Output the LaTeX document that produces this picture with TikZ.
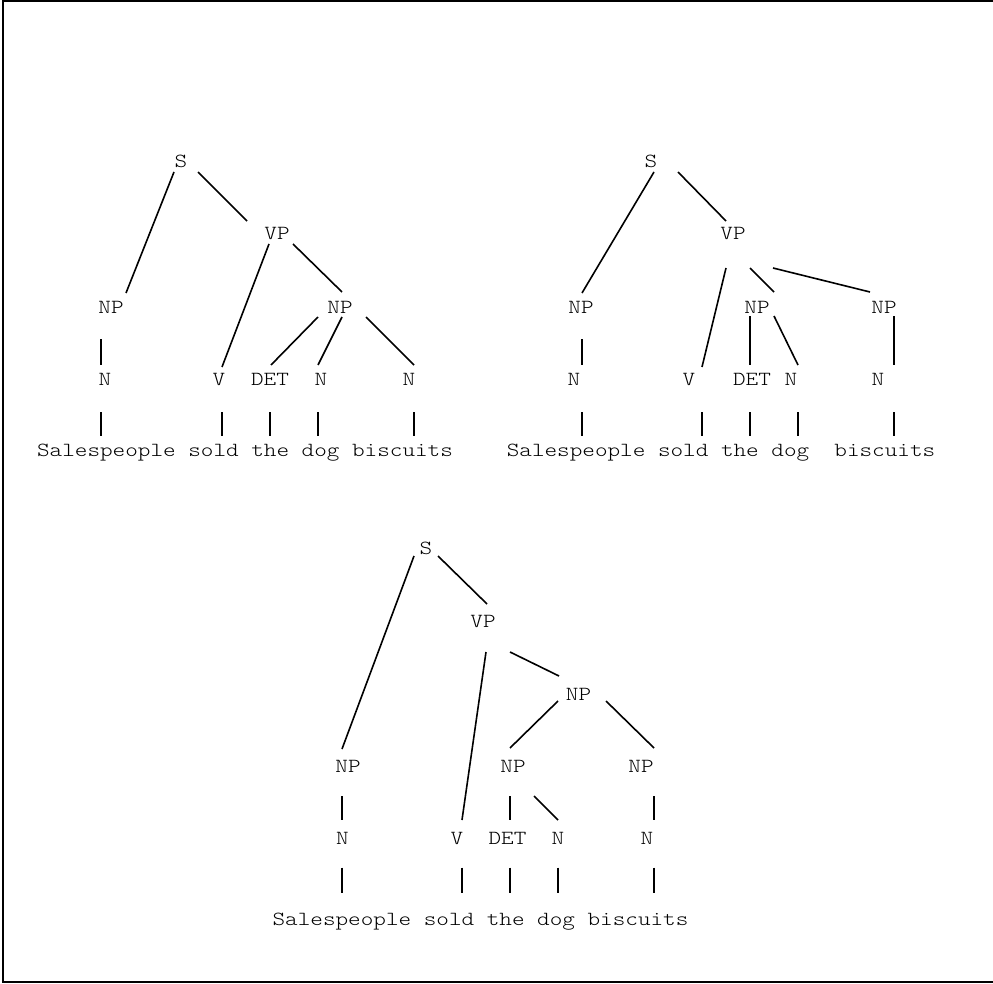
\documentclass[tikz,border=0pt]{standalone}
\usepackage{fontspec}
\setmainfont{lmmonolt10-regular.otf}[FakeStretch=1.2]
\usetikzlibrary{calc}
\tikzset{
  lbl/.style={anchor=base, inner sep=0pt, font=\fontsize{20}{24}\selectfont},
  edge/.style={line width=1.6pt}
}
\newcommand{\lnk}[6]{\draw[edge] ($(#1.base)+(#2,#3)$) -- ($(#4.base)+(#5,#6)$);}
\begin{document}
\begin{tikzpicture}[x=1pt,y=-1pt]
\useasboundingbox (0,0) rectangle (993,984);
\draw[line width=2pt] (993,0.7) -- (3.3,0.7) -- (3.3,982) -- (993,982);

% ---------- Tree 1 ----------
\node[lbl] (aS)   at (181,168) {S};
\node[lbl] (aVP)  at (277,240) {VP};
\node[lbl] (aNP1) at (111,313) {NP};
\node[lbl] (aNP2) at (340,313) {NP};
\node[lbl] (aN1)  at (105,385) {N};
\node[lbl] (aV)   at (219,385) {V};
\node[lbl] (aDET) at (270,385) {DET};
\node[lbl] (aN2)  at (321,385) {N};
\node[lbl] (aN3)  at (409,385) {N};
\node[lbl] (aW)   at (245,456.5) {Salespeople sold the dog biscuits};
\lnk{aS}{-7}{4}{aNP1}{15}{-20}
\lnk{aS}{17}{4}{aVP}{-30}{-19}
\lnk{aVP}{-8}{4}{aV}{3}{-18}
\lnk{aVP}{16}{4}{aNP2}{2}{-21}
\lnk{aNP2}{-22}{4}{aDET}{1}{-20}
\lnk{aNP2}{2}{4}{aN2}{-3}{-20}
\lnk{aNP2}{26}{4}{aN3}{5}{-20}
\lnk{aNP1}{-10}{26}{aN1}{-4}{-20}
\lnk{aN1}{-4}{27}{aW}{-144}{-20.5}
\lnk{aV}{3}{27}{aW}{-23}{-20.5}
\lnk{aDET}{0}{27}{aW}{25}{-20.5}
\lnk{aN2}{-3}{27}{aW}{73}{-20.5}
\lnk{aN3}{5}{27}{aW}{169}{-20.5}

% ---------- Tree 2 ----------
\node[lbl] (bS)   at (651,168) {S};
\node[lbl] (bVP)  at (733,240) {VP};
\node[lbl] (bNP1) at (581,313) {NP};
\node[lbl] (bNP2) at (757,313) {NP};
\node[lbl] (bNP3) at (884,313) {NP};
\node[lbl] (bN1)  at (574,385) {N};
\node[lbl] (bV)   at (689,385) {V};
\node[lbl] (bDET) at (752,385) {DET};
\node[lbl] (bN2)  at (791,385) {N};
\node[lbl] (bN3)  at (878,385) {N};
\node[lbl] (bW)   at (721,456.5) {Salespeople sold the dog~~biscuits};
\lnk{bS}{3}{4}{bNP1}{1}{-20}
\lnk{bS}{27}{4}{bVP}{-7}{-19}
\lnk{bVP}{-7}{28}{bV}{13}{-18}
\lnk{bVP}{17}{28}{bNP2}{17}{-21}
\lnk{bVP}{40}{28}{bNP3}{-14}{-21}
\lnk{bNP1}{1}{26}{bN1}{8}{-20}
\lnk{bNP2}{-7}{3}{bDET}{-2}{-20}
\lnk{bNP2}{17}{3}{bN2}{7}{-20}
\lnk{bNP3}{10}{3}{bN3}{16}{-20}
\lnk{bN1}{8}{27}{bW}{-139}{-20.5}
\lnk{bV}{13}{27}{bW}{-19}{-20.5}
\lnk{bDET}{-2}{27}{bW}{29}{-20.5}
\lnk{bN2}{7}{27}{bW}{77}{-20.5}
\lnk{bN3}{16}{27}{bW}{173}{-20.5}

% ---------- Tree 3 ----------
\node[lbl] (cS)   at (426,554) {S};
\node[lbl] (cVP)  at (483,627) {VP};
\node[lbl] (cNPu) at (578.5,700) {NP};
\node[lbl] (cNP1) at (348,772) {NP};
\node[lbl] (cNP2) at (513,772) {NP};
\node[lbl] (cNP3) at (641,772) {NP};
\node[lbl] (cN1)  at (342.5,844) {N};
\node[lbl] (cV)   at (457,844) {V};
\node[lbl] (cDET) at (507.5,844) {DET};
\node[lbl] (cN2)  at (558,844) {N};
\node[lbl] (cN3)  at (647,844) {N};
\node[lbl] (cW)   at (480.5,925) {Salespeople sold the dog biscuits};
\lnk{cS}{-12}{2}{cNP1}{-6}{-23}
\lnk{cS}{12}{2}{cVP}{4}{-23}
\lnk{cVP}{3}{25}{cV}{5}{-24}
\lnk{cVP}{27}{25}{cNPu}{-19.5}{-24}
\lnk{cNPu}{-20.5}{1}{cNP2}{-3}{-24}
\lnk{cNPu}{27.5}{1}{cNP3}{13}{-24}
\lnk{cNP1}{-6}{24}{cN1}{-0.5}{-24}
\lnk{cNP2}{-3}{24}{cDET}{2.5}{-24}
\lnk{cNP2}{21}{24}{cN2}{0}{-24}
\lnk{cNP3}{13}{24}{cN3}{7}{-24}
\lnk{cN1}{-0.5}{23.5}{cW}{-138.5}{-32}
\lnk{cV}{5}{23.5}{cW}{-18.5}{-32}
\lnk{cDET}{2.5}{23.5}{cW}{29.5}{-32}
\lnk{cN2}{0}{23.5}{cW}{77.5}{-32}
\lnk{cN3}{7}{23.5}{cW}{173.5}{-32}
\end{tikzpicture}
\end{document}
